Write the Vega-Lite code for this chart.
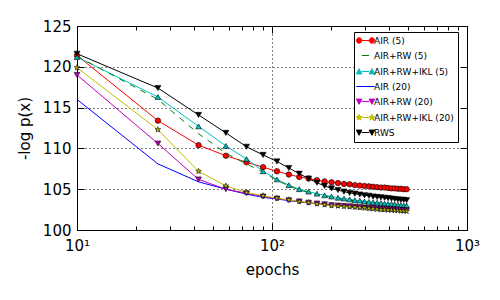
{
"$schema": "https://vega.github.io/schema/vega-lite/v6.json",
"width": 390, "height": 204,
"autosize": "none",
"padding": {"left": 77, "top": 26, "right": 33, "bottom": 70},
"background": "white",
"config": {
 "font": "DejaVu Sans",
 "view": {"stroke": "black", "strokeWidth": 1},
 "axis": {"labelFont": "DejaVu Sans", "titleFont": "DejaVu Sans", "labelColor": "black", "titleColor": "black", "tickColor": "black", "tickWidth": 1, "domainColor": "black", "domainWidth": 1, "titleFontWeight": "normal", "labelFontSize": 15, "titleFontSize": 15, "gridColor": "black", "gridDash": [1,3], "gridOpacity": 1, "gridWidth": 1, "labelFlush": false, "labelOverlap": false}
},
"data": {"values": [
{"s":"AIR (5)","e":10,"v":121.4},{"s":"AIR (5)","e":26,"v":113.4},{"s":"AIR (5)","e":42,"v":110.4},{"s":"AIR (5)","e":58,"v":109.1},{"s":"AIR (5)","e":74,"v":108.3},{"s":"AIR (5)","e":90,"v":107.7},{"s":"AIR (5)","e":106,"v":107.2},{"s":"AIR (5)","e":122,"v":106.8},{"s":"AIR (5)","e":138,"v":106.5},{"s":"AIR (5)","e":154,"v":106.3},{"s":"AIR (5)","e":170,"v":106.1},{"s":"AIR (5)","e":186,"v":105.95},{"s":"AIR (5)","e":202,"v":105.85},{"s":"AIR (5)","e":218,"v":105.75},{"s":"AIR (5)","e":234,"v":105.65},{"s":"AIR (5)","e":250,"v":105.6},{"s":"AIR (5)","e":266,"v":105.5},{"s":"AIR (5)","e":282,"v":105.45},{"s":"AIR (5)","e":298,"v":105.4},{"s":"AIR (5)","e":314,"v":105.35},{"s":"AIR (5)","e":330,"v":105.3},{"s":"AIR (5)","e":346,"v":105.25},{"s":"AIR (5)","e":362,"v":105.2},{"s":"AIR (5)","e":378,"v":105.2},{"s":"AIR (5)","e":394,"v":105.15},{"s":"AIR (5)","e":410,"v":105.1},{"s":"AIR (5)","e":426,"v":105.1},{"s":"AIR (5)","e":442,"v":105.05},{"s":"AIR (5)","e":458,"v":105.05},{"s":"AIR (5)","e":474,"v":105.0},{"s":"AIR (5)","e":490,"v":105.0},
{"s":"AIR+RW (5)","e":10,"v":121.3},{"s":"AIR+RW (5)","e":26,"v":116.0},{"s":"AIR+RW (5)","e":42,"v":111.8},{"s":"AIR+RW (5)","e":58,"v":109.4},{"s":"AIR+RW (5)","e":74,"v":108.1},{"s":"AIR+RW (5)","e":90,"v":107.1},{"s":"AIR+RW (5)","e":106,"v":106.1},{"s":"AIR+RW (5)","e":122,"v":105.4},{"s":"AIR+RW (5)","e":138,"v":104.9},{"s":"AIR+RW (5)","e":154,"v":104.6},{"s":"AIR+RW (5)","e":170,"v":104.35},{"s":"AIR+RW (5)","e":186,"v":104.15},{"s":"AIR+RW (5)","e":202,"v":104.0},{"s":"AIR+RW (5)","e":218,"v":103.85},{"s":"AIR+RW (5)","e":234,"v":103.75},{"s":"AIR+RW (5)","e":250,"v":103.65},{"s":"AIR+RW (5)","e":266,"v":103.55},{"s":"AIR+RW (5)","e":282,"v":103.5},{"s":"AIR+RW (5)","e":298,"v":103.4},{"s":"AIR+RW (5)","e":314,"v":103.35},{"s":"AIR+RW (5)","e":330,"v":103.3},{"s":"AIR+RW (5)","e":346,"v":103.25},{"s":"AIR+RW (5)","e":362,"v":103.2},{"s":"AIR+RW (5)","e":378,"v":103.15},{"s":"AIR+RW (5)","e":394,"v":103.1},{"s":"AIR+RW (5)","e":410,"v":103.1},{"s":"AIR+RW (5)","e":426,"v":103.05},{"s":"AIR+RW (5)","e":442,"v":103.0},{"s":"AIR+RW (5)","e":458,"v":102.95},{"s":"AIR+RW (5)","e":474,"v":102.9},{"s":"AIR+RW (5)","e":490,"v":102.9},
{"s":"AIR+RW+IKL (5)","e":10,"v":121.2},{"s":"AIR+RW+IKL (5)","e":26,"v":116.3},{"s":"AIR+RW+IKL (5)","e":42,"v":112.7},{"s":"AIR+RW+IKL (5)","e":58,"v":110.3},{"s":"AIR+RW+IKL (5)","e":74,"v":108.7},{"s":"AIR+RW+IKL (5)","e":90,"v":107.2},{"s":"AIR+RW+IKL (5)","e":106,"v":106.2},{"s":"AIR+RW+IKL (5)","e":122,"v":105.5},{"s":"AIR+RW+IKL (5)","e":138,"v":105.0},{"s":"AIR+RW+IKL (5)","e":154,"v":104.7},{"s":"AIR+RW+IKL (5)","e":170,"v":104.45},{"s":"AIR+RW+IKL (5)","e":186,"v":104.25},{"s":"AIR+RW+IKL (5)","e":202,"v":104.1},{"s":"AIR+RW+IKL (5)","e":218,"v":103.95},{"s":"AIR+RW+IKL (5)","e":234,"v":103.85},{"s":"AIR+RW+IKL (5)","e":250,"v":103.75},{"s":"AIR+RW+IKL (5)","e":266,"v":103.65},{"s":"AIR+RW+IKL (5)","e":282,"v":103.6},{"s":"AIR+RW+IKL (5)","e":298,"v":103.5},{"s":"AIR+RW+IKL (5)","e":314,"v":103.45},{"s":"AIR+RW+IKL (5)","e":330,"v":103.4},{"s":"AIR+RW+IKL (5)","e":346,"v":103.35},{"s":"AIR+RW+IKL (5)","e":362,"v":103.3},{"s":"AIR+RW+IKL (5)","e":378,"v":103.25},{"s":"AIR+RW+IKL (5)","e":394,"v":103.2},{"s":"AIR+RW+IKL (5)","e":410,"v":103.2},{"s":"AIR+RW+IKL (5)","e":426,"v":103.15},{"s":"AIR+RW+IKL (5)","e":442,"v":103.1},{"s":"AIR+RW+IKL (5)","e":458,"v":103.05},{"s":"AIR+RW+IKL (5)","e":474,"v":103.0},{"s":"AIR+RW+IKL (5)","e":490,"v":103.0},
{"s":"AIR (20)","e":10,"v":116.0},{"s":"AIR (20)","e":26,"v":108.1},{"s":"AIR (20)","e":42,"v":105.9},{"s":"AIR (20)","e":58,"v":105.0},{"s":"AIR (20)","e":74,"v":104.4},{"s":"AIR (20)","e":90,"v":104.0},{"s":"AIR (20)","e":106,"v":103.8},{"s":"AIR (20)","e":122,"v":103.6},{"s":"AIR (20)","e":138,"v":103.45},{"s":"AIR (20)","e":154,"v":103.3},{"s":"AIR (20)","e":170,"v":103.2},{"s":"AIR (20)","e":186,"v":103.1},{"s":"AIR (20)","e":202,"v":103.0},{"s":"AIR (20)","e":218,"v":102.95},{"s":"AIR (20)","e":234,"v":102.9},{"s":"AIR (20)","e":250,"v":102.8},{"s":"AIR (20)","e":266,"v":102.75},{"s":"AIR (20)","e":282,"v":102.7},{"s":"AIR (20)","e":298,"v":102.65},{"s":"AIR (20)","e":314,"v":102.6},{"s":"AIR (20)","e":330,"v":102.55},{"s":"AIR (20)","e":346,"v":102.5},{"s":"AIR (20)","e":362,"v":102.5},{"s":"AIR (20)","e":378,"v":102.45},{"s":"AIR (20)","e":394,"v":102.4},{"s":"AIR (20)","e":410,"v":102.4},{"s":"AIR (20)","e":426,"v":102.35},{"s":"AIR (20)","e":442,"v":102.3},{"s":"AIR (20)","e":458,"v":102.3},{"s":"AIR (20)","e":474,"v":102.25},{"s":"AIR (20)","e":490,"v":102.2},
{"s":"AIR+RW (20)","e":10,"v":119.0},{"s":"AIR+RW (20)","e":26,"v":110.6},{"s":"AIR+RW (20)","e":42,"v":106.2},{"s":"AIR+RW (20)","e":58,"v":105.0},{"s":"AIR+RW (20)","e":74,"v":104.5},{"s":"AIR+RW (20)","e":90,"v":104.1},{"s":"AIR+RW (20)","e":106,"v":103.85},{"s":"AIR+RW (20)","e":122,"v":103.65},{"s":"AIR+RW (20)","e":138,"v":103.5},{"s":"AIR+RW (20)","e":154,"v":103.35},{"s":"AIR+RW (20)","e":170,"v":103.25},{"s":"AIR+RW (20)","e":186,"v":103.15},{"s":"AIR+RW (20)","e":202,"v":103.05},{"s":"AIR+RW (20)","e":218,"v":103.0},{"s":"AIR+RW (20)","e":234,"v":102.95},{"s":"AIR+RW (20)","e":250,"v":102.9},{"s":"AIR+RW (20)","e":266,"v":102.85},{"s":"AIR+RW (20)","e":282,"v":102.8},{"s":"AIR+RW (20)","e":298,"v":102.75},{"s":"AIR+RW (20)","e":314,"v":102.7},{"s":"AIR+RW (20)","e":330,"v":102.7},{"s":"AIR+RW (20)","e":346,"v":102.65},{"s":"AIR+RW (20)","e":362,"v":102.6},{"s":"AIR+RW (20)","e":378,"v":102.6},{"s":"AIR+RW (20)","e":394,"v":102.55},{"s":"AIR+RW (20)","e":410,"v":102.55},{"s":"AIR+RW (20)","e":426,"v":102.5},{"s":"AIR+RW (20)","e":442,"v":102.5},{"s":"AIR+RW (20)","e":458,"v":102.45},{"s":"AIR+RW (20)","e":474,"v":102.45},{"s":"AIR+RW (20)","e":490,"v":102.4},
{"s":"AIR+RW+IKL (20)","e":10,"v":119.9},{"s":"AIR+RW+IKL (20)","e":26,"v":112.3},{"s":"AIR+RW+IKL (20)","e":42,"v":107.2},{"s":"AIR+RW+IKL (20)","e":58,"v":105.4},{"s":"AIR+RW+IKL (20)","e":74,"v":104.6},{"s":"AIR+RW+IKL (20)","e":90,"v":104.2},{"s":"AIR+RW+IKL (20)","e":106,"v":103.9},{"s":"AIR+RW+IKL (20)","e":122,"v":103.7},{"s":"AIR+RW+IKL (20)","e":138,"v":103.5},{"s":"AIR+RW+IKL (20)","e":154,"v":103.35},{"s":"AIR+RW+IKL (20)","e":170,"v":103.2},{"s":"AIR+RW+IKL (20)","e":186,"v":103.1},{"s":"AIR+RW+IKL (20)","e":202,"v":103.0},{"s":"AIR+RW+IKL (20)","e":218,"v":102.95},{"s":"AIR+RW+IKL (20)","e":234,"v":102.9},{"s":"AIR+RW+IKL (20)","e":250,"v":102.85},{"s":"AIR+RW+IKL (20)","e":266,"v":102.8},{"s":"AIR+RW+IKL (20)","e":282,"v":102.75},{"s":"AIR+RW+IKL (20)","e":298,"v":102.7},{"s":"AIR+RW+IKL (20)","e":314,"v":102.65},{"s":"AIR+RW+IKL (20)","e":330,"v":102.6},{"s":"AIR+RW+IKL (20)","e":346,"v":102.55},{"s":"AIR+RW+IKL (20)","e":362,"v":102.5},{"s":"AIR+RW+IKL (20)","e":378,"v":102.5},{"s":"AIR+RW+IKL (20)","e":394,"v":102.45},{"s":"AIR+RW+IKL (20)","e":410,"v":102.45},{"s":"AIR+RW+IKL (20)","e":426,"v":102.4},{"s":"AIR+RW+IKL (20)","e":442,"v":102.4},{"s":"AIR+RW+IKL (20)","e":458,"v":102.35},{"s":"AIR+RW+IKL (20)","e":474,"v":102.35},{"s":"AIR+RW+IKL (20)","e":490,"v":102.3},
{"s":"RWS","e":10,"v":121.6},{"s":"RWS","e":26,"v":117.4},{"s":"RWS","e":42,"v":114.1},{"s":"RWS","e":58,"v":111.9},{"s":"RWS","e":74,"v":110.2},{"s":"RWS","e":90,"v":109.2},{"s":"RWS","e":106,"v":108.4},{"s":"RWS","e":122,"v":107.6},{"s":"RWS","e":138,"v":106.9},{"s":"RWS","e":154,"v":106.3},{"s":"RWS","e":170,"v":105.8},{"s":"RWS","e":186,"v":105.4},{"s":"RWS","e":202,"v":105.1},{"s":"RWS","e":218,"v":104.9},{"s":"RWS","e":234,"v":104.7},{"s":"RWS","e":250,"v":104.55},{"s":"RWS","e":266,"v":104.45},{"s":"RWS","e":282,"v":104.35},{"s":"RWS","e":298,"v":104.25},{"s":"RWS","e":314,"v":104.2},{"s":"RWS","e":330,"v":104.1},{"s":"RWS","e":346,"v":104.05},{"s":"RWS","e":362,"v":104.0},{"s":"RWS","e":378,"v":103.95},{"s":"RWS","e":394,"v":103.9},{"s":"RWS","e":410,"v":103.85},{"s":"RWS","e":426,"v":103.8},{"s":"RWS","e":442,"v":103.75},{"s":"RWS","e":458,"v":103.7},{"s":"RWS","e":474,"v":103.7},{"s":"RWS","e":490,"v":103.65}
]},
"resolve": {"axis": {"x": "independent", "y": "independent"}},
"layer": [
 {
  "transform": [{"filter": "datum.s !== 'AIR+RW (5)'"}],
  "mark": {"type": "line", "strokeWidth": 1},
  "encoding": {
   "x": {"field": "e", "type": "quantitative", "scale": {"type": "log", "domain": [10, 1000], "nice": false},
    "axis": {"orient": "bottom", "title": "epochs", "titlePadding": 6,
     "values": [10,20,30,40,50,60,70,80,90,100,200,300,400,500,600,700,800,900,1000],
     "labelExpr": "datum.value == 10 ? '10¹' : datum.value == 100 ? '10²' : datum.value == 1000 ? '10³' : ''",
     "tickSize": {"condition": {"test": "datum.value == 10 || datum.value == 100 || datum.value == 1000", "value": -7}, "value": -4},
     "labelPadding": 15, "grid": true,
     "gridOpacity": {"condition": {"test": "datum.value == 100", "value": 1}, "value": 0}}},
   "y": {"field": "v", "type": "quantitative", "scale": {"domain": [100, 125], "nice": false},
    "axis": {"orient": "left", "title": "-log p(x)", "titlePadding": 10, "values": [100,105,110,115,120,125], "tickSize": -7, "labelPadding": 13, "grid": true}},
   "color": {"field": "s", "type": "nominal",
    "scale": {"domain": ["AIR (5)","AIR+RW (5)","AIR+RW+IKL (5)","AIR (20)","AIR+RW (20)","AIR+RW+IKL (20)","RWS"],
              "range": ["#ff0000","#008000","#00bfbf","#0000ff","#bf00bf","#bfbf00","#000000"]},
    "legend": {"title": null, "orient": "none", "legendX": 277, "legendY": 6, "padding": 4,
     "strokeColor": "black", "fillColor": "white", "cornerRadius": 0,
     "labelFont": "DejaVu Sans", "labelFontSize": 9, "labelColor": "black",
     "symbolSize": 64, "symbolOffset": 3, "labelOffset": 4, "rowPadding": 5,
     "encode": {"symbols": {"update": {
      "shape": {"signal": "datum.value === 'AIR (5)' ? 'M-2.28,0A0.68,0.68 0 1,0 -0.92,0A0.68,0.68 0 1,0 -2.28,0Z M0.92,0A0.68,0.68 0 1,0 2.28,0A0.68,0.68 0 1,0 0.92,0Z M-0.92,0L0.92,0' : datum.value === 'AIR+RW+IKL (5)' ? 'M-2.3,0.6L-0.9,0.6L-1.6,-0.7Z M0.9,0.6L2.3,0.6L1.6,-0.7Z M-0.95,0L0.95,0' : (datum.value === 'AIR+RW (20)' || datum.value === 'RWS') ? 'M-2.3,-0.6L-0.9,-0.6L-1.6,0.7Z M0.9,-0.6L2.3,-0.6L1.6,0.7Z M-0.95,0L0.95,0' : datum.value === 'AIR+RW+IKL (20)' ? 'M-1.6,-0.8L-1.412,-0.259L-0.839,-0.247L-1.296,0.099L-1.13,0.647L-1.6,0.32L-2.07,0.647L-1.904,0.099L-2.361,-0.247L-1.788,-0.259Z M1.6,-0.8L1.788,-0.259L2.361,-0.247L1.904,0.099L2.07,0.647L1.6,0.32L1.13,0.647L1.296,0.099L0.839,-0.247L1.412,-0.259Z M-0.85,0L0.85,0' : datum.value === 'AIR (20)' ? 'M-2.28,0L2.28,0' : 'M-0.9,0L0.9,0'"},
      "fill": {"scale": "color", "field": "value"},
      "stroke": {"scale": "color", "field": "value"},
      "strokeWidth": {"value": 1},
      "strokeDash": {"value": []},
      "opacity": {"value": 1},
      "fillOpacity": {"value": 1},
      "strokeOpacity": {"value": 1}
     }}}}
   }
  }
 },
 {
  "transform": [{"filter": "datum.s === 'AIR+RW (5)'"}],
  "mark": {"type": "line", "strokeWidth": 1, "strokeDash": [6, 6]},
  "encoding": {
   "x": {"field": "e", "type": "quantitative", "axis": null},
   "y": {"field": "v", "type": "quantitative", "axis": null},
   "color": {"field": "s", "type": "nominal"}
  }
 },
 {
  "transform": [{"filter": "datum.s !== 'AIR+RW (5)' && datum.s !== 'AIR (20)'"}],
  "mark": {"type": "point", "filled": true, "stroke": "black", "strokeWidth": 0.6, "opacity": 1},
  "encoding": {
   "x": {"field": "e", "type": "quantitative",
    "axis": {"orient": "top", "title": null, "labels": false, "grid": false,
     "values": [10,20,30,40,50,60,70,80,90,100,200,300,400,500,600,700,800,900,1000],
     "tickSize": {"condition": {"test": "datum.value == 10 || datum.value == 100 || datum.value == 1000", "value": -7}, "value": -4}}},
   "y": {"field": "v", "type": "quantitative",
    "axis": {"orient": "right", "title": null, "labels": false, "grid": false, "values": [100,105,110,115,120,125], "tickSize": -7}},
   "color": {"field": "s", "type": "nominal"},
   "shape": {"field": "s", "type": "nominal", "legend": null,
    "scale": {"domain": ["AIR (5)","AIR+RW+IKL (5)","AIR+RW (20)","AIR+RW+IKL (20)","RWS"], "range": ["circle","triangle-up","triangle-down","M0,-1L0.235,-0.324L0.951,-0.309L0.38,0.124L0.588,0.809L0,0.4L-0.588,0.809L-0.38,0.124L-0.951,-0.309L-0.235,-0.324Z","triangle-down"]}},
   "size": {"field": "s", "type": "nominal", "legend": null,
    "scale": {"domain": ["AIR (5)","AIR+RW+IKL (5)","AIR+RW (20)","AIR+RW+IKL (20)","RWS"], "range": [30, 36, 36, 50, 36]}}
  }
 }
]
}
